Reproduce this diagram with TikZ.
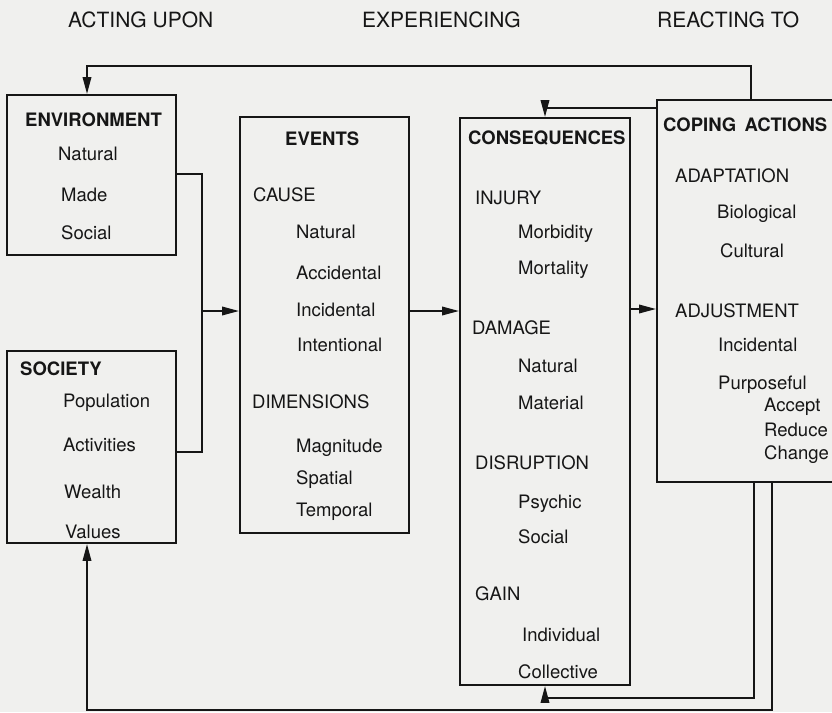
\documentclass[tikz,border=0pt]{standalone}
\usepackage{fontspec}
\setmainfont{TeX Gyre Heros}
\usetikzlibrary{arrows.meta}
\definecolor{bg}{RGB}{240,240,238}
\definecolor{ink}{RGB}{22,22,22}
\tikzset{
  box/.style={draw=ink, line width=1.9pt, rectangle, inner sep=0pt},
  conn/.style={draw=ink, line width=1.9pt},
  arr/.style={conn, -{Triangle[length=17pt,width=8.5pt]}},
  txt/.style={anchor=base west, inner sep=0pt, text=ink, font=\fontsize{18.5pt}{20pt}\selectfont},
  hd/.style={txt, font=\fontsize{18.5pt}{20pt}\selectfont\bfseries},
  ttl/.style={anchor=base west, inner sep=0pt, text=ink, font=\fontsize{21pt}{23pt}\selectfont}
}
\begin{document}
\begin{tikzpicture}[x=1pt,y=-1pt]
\fill[bg] (0,0) rectangle (832,712);
\useasboundingbox (0,0) rectangle (832,712);

% titles
\node[ttl] (t-act) at (68,27.5) {ACTING UPON};
\node[ttl] (t-exp) at (362,27.5) {EXPERIENCING};
\node[ttl] (t-rea) at (657,27.5) {REACTING TO};

% boxes
\node[box, minimum width=169pt, minimum height=160pt] (env) at (91.5,175) {};
\node[box, minimum width=169pt, minimum height=192pt] (soc) at (91.5,447) {};
\node[box, minimum width=169pt, minimum height=416pt] (events) at (324.5,325) {};
\node[box, minimum width=170pt, minimum height=567pt] (cons) at (545,401.5) {};
\node[box, minimum width=188pt, minimum height=382pt] (coping) at (751,291) {};

% environment
\node[hd]  (env-h) at (25,126.6) {ENVIRONMENT};
\node[txt] (env-1) at (58,160.6) {Natural};
\node[txt] (env-2) at (61,201.6) {Made};
\node[txt] (env-3) at (61,239.6) {Social};

% society
\node[hd]  (soc-h) at (20,375.6) {SOCIETY};
\node[txt] (soc-1) at (63,407.6) {Population};
\node[txt] (soc-2) at (63,451.6) {Activities};
\node[txt] (soc-3) at (64,498.6) {Wealth};
\node[txt] (soc-4) at (65,538.6) {Values};

% events
\node[hd]  (ev-h) at (285,145.6) {EVENTS};
\node[txt] (ev-c) at (253,201.6) {CAUSE};
\node[txt] (ev-1) at (296,238.6) {Natural};
\node[txt] (ev-2) at (296,279.6) {Accidental};
\node[txt] (ev-3) at (296,316.6) {Incidental};
\node[txt] (ev-4) at (297,351.6) {Intentional};
\node[txt] (ev-d) at (252,408.6) {DIMENSIONS};
\node[txt] (ev-5) at (296,452.6) {Magnitude};
\node[txt] (ev-6) at (296,484.6) {Spatial};
\node[txt] (ev-7) at (296,516.6) {Temporal};

% consequences
\node[hd]  (co-h) at (468,144.6) {CONSEQUENCES};
\node[txt] (co-a) at (475,204.6) {INJURY};
\node[txt] (co-1) at (518,238.6) {Morbidity};
\node[txt] (co-2) at (518,274.6) {Mortality};
\node[txt] (co-b) at (472,334.6) {DAMAGE};
\node[txt] (co-3) at (518,372.6) {Natural};
\node[txt] (co-4) at (518,409.6) {Material};
\node[txt] (co-c) at (475,469.6) {DISRUPTION};
\node[txt] (co-5) at (518,508.6) {Psychic};
\node[txt] (co-6) at (518,543.6) {Social};
\node[txt] (co-d) at (475,600.6) {GAIN};
\node[txt] (co-7) at (522,641.6) {Individual};
\node[txt] (co-8) at (518,678.6) {Collective};

% coping actions
\node[hd]  (cp-h) at (663,131.6) {COPING\hspace{0.45em}ACTIONS};
\node[txt] (cp-a) at (675,182.6) {ADAPTATION};
\node[txt] (cp-1) at (717,218.6) {Biological};
\node[txt] (cp-2) at (720,257.6) {Cultural};
\node[txt] (cp-b) at (675,317.6) {ADJUSTMENT};
\node[txt] (cp-3) at (718,351.6) {Incidental};
\node[txt] (cp-4) at (718,389.6) {Purposeful};
\node[txt] (cp-5) at (764,411.6) {Accept};
\node[txt] (cp-6) at (764,436.6) {Reduce};
\node[txt] (cp-7) at (764,459.6) {Change};

% helper coordinates
\coordinate (jn) at (202,311);
\coordinate (a2) at (640,309);
\coordinate (t1) at (87,66);
\coordinate (t2) at (600,108);
\coordinate (b1) at (754,698);
\coordinate (b2) at (772,710);

% bracket from environment and society into events
\draw[conn] (env.east |- 0,174) -| (jn) |- (soc.east |- 0,452);
\draw[arr] (jn) -- (jn -| events.west);
% events -> consequences
\draw[arr] (events.east |- jn) -- (cons.west |- jn);
% consequences -> coping
\draw[arr] (cons.east |- a2) -- (coping.west |- a2);
% feedback top: coping -> environment
\draw[arr] (coping.north) |- (t1) -- (t1 |- env.north);
% feedback: coping -> consequences (top)
\draw[arr] (coping.west |- t2) -| (cons.north);
% feedback: coping -> consequences (bottom)
\draw[arr] (coping.south -| b1) -- (b1) -| (cons.south);
% feedback: coping -> society (bottom)
\draw[arr] (coping.south -| b2) -- (b2) -| (t1 |- soc.south);
\end{tikzpicture}
\end{document}
